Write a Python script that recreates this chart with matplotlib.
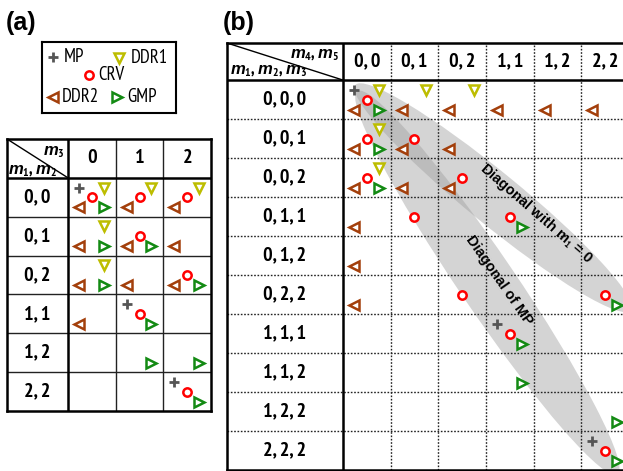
import numpy as np
import matplotlib
matplotlib.use('Agg')
import matplotlib.pyplot as plt
from matplotlib.patches import Ellipse
from matplotlib.transforms import Affine2D
from matplotlib import font_manager

names = {f.name for f in font_manager.fontManager.ttflist}
NARROW = 'PT Sans Narrow' if 'PT Sans Narrow' in names else 'Liberation Sans'
plt.rcParams['font.family'] = [NARROW, 'DejaVu Sans']
plt.rcParams['mathtext.fontset'] = 'custom'
plt.rcParams['mathtext.rm'] = NARROW + ':bold'
plt.rcParams['mathtext.it'] = 'Liberation Sans:italic:bold'
plt.rcParams['mathtext.bf'] = NARROW + ':bold'

# ---- panel (a): rows (m1, m2), columns m3 ----
a_rows = ['0, 0', '0, 1', '0, 2', '1, 1', '1, 2', '2, 2']
a_cols = ['0', '1', '2']
# (row, col) cells where each method finds a solution
a_mp = [(0, 0), (3, 1), (5, 2)]
a_ddr1 = [(0, 0), (0, 1), (0, 2), (1, 0), (2, 0)]
a_crv = [(0, 0), (0, 1), (0, 2), (1, 1), (2, 2), (3, 1), (5, 2)]
a_ddr2 = [(0, 0), (0, 1), (0, 2), (1, 0), (1, 1), (1, 2), (2, 0), (2, 1), (2, 2), (3, 0)]
a_gmp = [(0, 0), (1, 0), (1, 1), (2, 0), (2, 2), (3, 1), (4, 1), (4, 2), (5, 2)]

# ---- panel (b): rows (m1, m2, m3), columns (m4, m5) ----
b_rows = ['0, 0, 0', '0, 0, 1', '0, 0, 2', '0, 1, 1', '0, 1, 2',
          '0, 2, 2', '1, 1, 1', '1, 1, 2', '1, 2, 2', '2, 2, 2']
b_cols = ['0, 0', '0, 1', '0, 2', '1, 1', '1, 2', '2, 2']
b_mp = [(0, 0), (6, 3), (9, 5)]
b_ddr1 = [(0, 0), (0, 1), (0, 2), (1, 0), (2, 0)]
b_crv = [(0, 0), (1, 0), (1, 1), (2, 0), (2, 2), (3, 1), (3, 3), (5, 2), (5, 5), (6, 3), (9, 5)]
b_ddr2 = [(0, 0), (0, 1), (0, 2), (0, 3), (0, 4), (0, 5), (1, 0), (1, 1), (1, 2),
          (2, 0), (2, 1), (2, 2), (3, 0), (4, 0), (5, 0)]
b_gmp = [(0, 0), (1, 0), (2, 0), (3, 3), (5, 5), (6, 3), (7, 3), (8, 5), (9, 5)]

methods = ['MP', 'DDR1', 'CRV', 'DDR2', 'GMP']
style = {
    'MP':   dict(marker='+', mec='#555555', ms=7, mew=2.0),
    'DDR1': dict(marker='v', mec='#bdbd00', ms=6.5, mew=1.8),
    'CRV':  dict(marker='o', mec='#ff0000', ms=6, mew=1.8),
    'DDR2': dict(marker='<', mec='#a33f0b', ms=6.5, mew=1.8),
    'GMP':  dict(marker='>', mec='#138a13', ms=6.5, mew=1.8),
}
# where each method sits inside a cell
spot = {'MP': (0.23, 0.25), 'DDR1': (0.75, 0.25), 'CRV': (0.5, 0.5),
        'DDR2': (0.23, 0.76), 'GMP': (0.75, 0.76)}

W, H = 623, 471
fig = plt.figure(figsize=(W / 100, H / 100), dpi=100)


def px_axes(x0, y0, x1, y1):
    return fig.add_axes([x0 / W, 1 - y1 / H, (x1 - x0) / W, (y1 - y0) / H])


def marks(ax, cells):
    for m in methods:
        rc = np.array(cells[m])
        dx, dy = spot[m]
        ax.plot(rc[:, 1] + dx, rc[:, 0] + dy, ls='none', mfc='white', zorder=5, **style[m])


def table(ax, rows, cols, hw, hh, inner):
    ax.set_xlim(-hw, len(cols))
    ax.set_ylim(len(rows), -hh)
    ax.set_xticks([])
    ax.set_yticks([])
    for s in ax.spines.values():
        s.set_linewidth(1.8)
    for r in range(1, len(rows)):
        ax.axhline(r, color='#222222', zorder=2, **inner)
    for c in range(1, len(cols)):
        ax.axvline(c, color='#222222', zorder=2, **inner)
    ax.axhline(0, color='black', lw=1.8, zorder=3)
    ax.axvline(0, color='black', lw=1.8, zorder=3)
    ax.plot([-hw, 0], [-hh, 0], color='black', lw=1, zorder=3)
    for i, lab in enumerate(rows):
        ax.text(-hw / 2, i + 0.5, lab, ha='center', va='center', fontsize=14.5, weight='bold')
    for j, lab in enumerate(cols):
        ax.text(j + 0.5, -hh / 2, lab, ha='center', va='center', fontsize=14.5, weight='bold')


# ---------- (a) ----------
axa = px_axes(7, 139, 211, 411)
table(axa, a_rows, a_cols, 1.28, 1.0, dict(lw=1.0))
axa.text(-0.07, -0.66, r'$m_3$', ha='right', va='center', fontsize=12)
axa.text(-1.25, -0.18, r'$m_1$, $m_2$', ha='left', va='center', fontsize=12, weight='bold')
marks(axa, dict(MP=a_mp, DDR1=a_ddr1, CRV=a_crv, DDR2=a_ddr2, GMP=a_gmp))

# legend box
axl = px_axes(42, 42, 176, 113)
axl.set_xlim(0, 134)
axl.set_ylim(71, 0)
axl.set_xticks([])
axl.set_yticks([])
for s in axl.spines.values():
    s.set_linewidth(1.5)
key_slots = {'MP': (11, 15, 22), 'DDR1': (77, 16, 89), 'CRV': (47, 33, 56),
             'DDR2': (11, 55, 20), 'GMP': (75, 55, 85)}
for m in methods:
    kx, ky, tx = key_slots[m]
    axl.plot([kx], [ky], ls='none', mfc='white', **style[m])
    axl.text(tx, ky, m, ha='left', va='center', fontsize=13.5)

fig.text(6 / W, 1 - 23 / H, '(a)', ha='left', va='center', fontsize=18,
         weight='bold', family='Liberation Sans')

# ---------- (b) ----------
axb = px_axes(227, 43, 629, 470)
table(axb, b_rows, b_cols, 2.43, 0.95, dict(lw=1.0, ls=(0, (1.2, 1.2))))
axb.text(-0.08, -0.64, r'$m_4$, $m_5$', ha='right', va='center', fontsize=12, weight='bold')
axb.text(-2.36, -0.23, r'$m_1$, $m_2$, $m_3$', ha='left', va='center', fontsize=12, weight='bold')
marks(axb, dict(MP=b_mp, DDR1=b_ddr1, CRV=b_crv, DDR2=b_ddr2, GMP=b_gmp))

# shaded bands along the two diagonals, built in pixel-like units
CW, CH = 286 / 6, 39.0


def band(ax, p0, p1, pad0, pad1, width, shift=0.0):
    x0, y0 = p0[0] * CW, p0[1] * CH
    x1, y1 = p1[0] * CW, p1[1] * CH
    L = np.hypot(x1 - x0, y1 - y0)
    ux, uy = (x1 - x0) / L, (y1 - y0) / L
    mid = (L + pad1 - pad0) / 2
    cx = x0 + ux * mid + uy * shift
    cy = y0 + uy * mid - ux * shift
    e = Ellipse((cx, cy), L + pad0 + pad1, width, angle=np.degrees(np.arctan2(uy, ux)),
                facecolor='#a0a0a0', alpha=0.45, edgecolor='none', zorder=1,
                transform=Affine2D().scale(1 / CW, 1 / CH) + ax.transData)
    ax.add_patch(e)


# m1 = 0 diagonal: CRV in (0,0,0)/(0,0) to (0,2,2)/(2,2)
band(axb, (0 + spot['CRV'][0], 0 + spot['CRV'][1]), (5 + spot['CRV'][0], 5 + spot['CRV'][1]),
     18, 30, 52, shift=4)
# MP diagonal: (0,0,0)/(0,0) to (2,2,2)/(2,2)
band(axb, (0 + spot['MP'][0], 0 + spot['MP'][1]), (5 + spot['MP'][0], 9 + spot['MP'][1]),
     -3, 42, 56, shift=2)

axb.text(4.05, 3.42, r'Diagonal with m$_1$ = 0', ha='center', va='center', rotation=-41,
         rotation_mode='anchor', fontsize=10.5, weight='bold', family='Liberation Sans', zorder=6)
axb.text(3.27, 5.13, 'Diagonal of MP', ha='center', va='center', rotation=-55,
         rotation_mode='anchor', fontsize=10.5, weight='bold', family='Liberation Sans', zorder=6)

fig.text(223 / W, 1 - 23 / H, '(b)', ha='left', va='center', fontsize=18,
         weight='bold', family='Liberation Sans')

fig.savefig('out.png', dpi=100)
